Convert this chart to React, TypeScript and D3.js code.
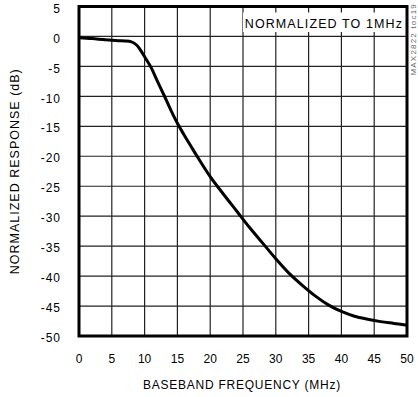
import React from "react";
import * as d3 from "d3";

const freqMHz = [0, 2, 4, 6, 7, 8, 8.5, 9, 9.5, 10, 11, 12, 13, 14, 15, 16, 17, 18, 20, 22, 24, 26, 28, 30, 32, 34, 36, 38, 40, 42, 44, 46, 48, 50];
const responseDb = [-0.2, -0.35, -0.55, -0.7, -0.75, -0.9, -1.2, -1.7, -2.5, -3.4, -5.2, -7.6, -9.9, -12.3, -14.5, -16.4, -18.2, -20.0, -23.4, -26.3, -29.1, -31.9, -34.5, -37.1, -39.5, -41.5, -43.3, -44.8, -45.9, -46.7, -47.2, -47.6, -47.9, -48.2];
const xTicks = [0, 5, 10, 15, 20, 25, 30, 35, 40, 45, 50];
const yTicks = [5, 0, -5, -10, -15, -20, -25, -30, -35, -40, -45, -50];

const W = 418, H = 397;
const L = 79, R = 407, T = 6.5, B = 336;

export default function App() {
  const x = d3.scaleLinear().domain([0, 50]).range([L, R]);
  const y = d3.scaleLinear().domain([-50, 5]).range([B, T]);
  const line = d3.line<number>().x((_, i) => x(freqMHz[i])).y((d) => y(d)).curve(d3.curveMonotoneX);
  const font = "Arial, 'Liberation Sans', Helvetica, sans-serif";
  return (
    <svg width={W} height={H} style={{ position: "absolute", left: 0, top: 0, background: "#fff" }} fontFamily={font}>
      <rect x={0} y={0} width={W} height={H} fill="#fff" />
      {xTicks.map((t) => (
        <line key={"gx" + t} x1={x(t)} x2={x(t)} y1={T} y2={B} stroke="#222" strokeWidth={1.2} />
      ))}
      {yTicks.map((t) => (
        <line key={"gy" + t} x1={L} x2={R} y1={y(t)} y2={y(t)} stroke="#222" strokeWidth={1.2} />
      ))}
      <rect x={243} y={12.5} width={162} height={19.5} fill="#fff" />
      <text x={403} y={25} textAnchor="end" dominantBaseline="middle" fontSize={12.5} fill="#000" letterSpacing={1.1}>NORMALIZED TO 1MHz</text>
      <path d={line(responseDb) || ""} fill="none" stroke="#000" strokeWidth={3} strokeLinejoin="round" />
      <rect x={L} y={T} width={R - L} height={B - T} fill="none" stroke="#000" strokeWidth={3} />
      {xTicks.map((t) => (
        <text key={"tx" + t} x={x(t)} y={360} textAnchor="middle" dominantBaseline="middle" fontSize={12} fill="#000">{t}</text>
      ))}
      {yTicks.map((t) => (
        <text key={"ty" + t} x={61} y={y(t) + 3} textAnchor="end" dominantBaseline="middle" fontSize={12} fill="#000" letterSpacing={1}>{t}</text>
      ))}
      <text x={242} y={386} textAnchor="middle" dominantBaseline="middle" fontSize={12} fill="#000" letterSpacing={0.75}>BASEBAND FREQUENCY (MHz)</text>
      <text transform={`translate(16,${(T + B) / 2}) rotate(-90)`} textAnchor="middle" dominantBaseline="middle" fontSize={12.5} fill="#000" letterSpacing={1}>NORMALIZED RESPONSE (dB)</text>
      <text transform="translate(414,3) rotate(-90)" textAnchor="end" dominantBaseline="middle" fontSize={8} fill="#666" letterSpacing={1.2}>MAX2822 toc19</text>
    </svg>
  );
}
